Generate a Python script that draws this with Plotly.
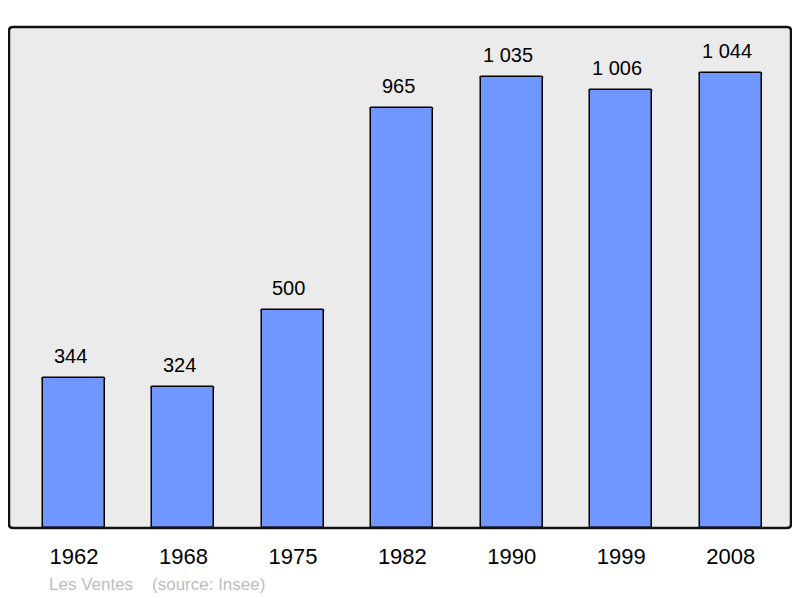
import plotly.graph_objects as go

years = ["1962", "1968", "1975", "1982", "1990", "1999", "2008"]
population = [344, 324, 500, 965, 1035, 1006, 1044]
labels = ["344", "324", "500", "965", "1 035", "1 006", "1 044"]

FONT = "Liberation Sans, Arial, sans-serif"

fig = go.Figure()
fig.add_trace(go.Bar(
    x=years, y=population, width=0.567,
    marker=dict(color="#7096ff", line=dict(color="#000000", width=1.5), cornerradius=2),
    hoverinfo="skip",
))

for i, (v, t) in enumerate(zip(population, labels)):
    fig.add_annotation(x=i, y=v, text=t, showarrow=False, yanchor="bottom",
                       yshift=9, xshift=-4, font=dict(size=20, color="#000000", family=FONT))

fig.add_annotation(xref="paper", yref="paper", x=(47 - 9) / 782, y=(528 - 584) / 501,
                   xanchor="left", yanchor="middle", showarrow=False,
                   text="Les Ventes&nbsp;&nbsp;&nbsp;&nbsp;(source: Insee)",
                   font=dict(size=17, color="#bdbdbd", family=FONT))

# rounded border around the plot area
rx, ry = 4 / 782, 4 / 501
path = (f"M {rx},0 L {1-rx},0 Q 1,0 1,{ry} L 1,{1-ry} Q 1,1 {1-rx},1 "
        f"L {rx},1 Q 0,1 0,{1-ry} L 0,{ry} Q 0,0 {rx},0 Z")
fig.add_shape(type="path", xref="paper", yref="paper", path=path,
              line=dict(color="#111111", width=2.5), layer="above")

fig.update_layout(
    width=792, height=590,
    margin=dict(l=1, r=9, t=19, b=70),
    paper_bgcolor="#ffffff", plot_bgcolor="#ebebeb",
    showlegend=False, bargap=0,
    font=dict(family=FONT),
    xaxis=dict(type="category", range=[-0.594, 6.551], showgrid=False, zeroline=False,
               showline=False, ticks="", tickfont=dict(size=22, color="#000000"),
               ticklabelstandoff=13),
    yaxis=dict(range=[0, 1150], showgrid=False, zeroline=False, showline=False,
               showticklabels=False, ticks=""),
)

fig.write_html("out.html")
